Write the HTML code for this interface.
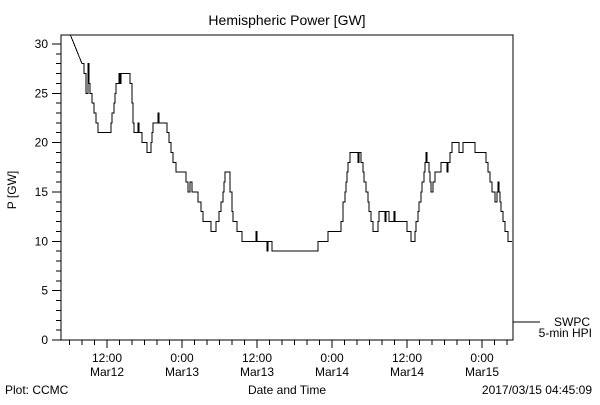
<!DOCTYPE html>
<html><head><meta charset="utf-8"><style>
body{margin:0;background:#fff}
svg text{font-family:"Liberation Sans",sans-serif;fill:#000}
</style></head><body>
<svg width="600" height="400" viewBox="0 0 600 400" xmlns="http://www.w3.org/2000/svg">
<rect width="600" height="400" fill="#fff"/>
<text x="287" y="25" font-size="14" text-anchor="middle">Hemispheric Power [GW]</text>
<text x="0" y="0" font-size="12" text-anchor="middle" transform="translate(16,190) rotate(-90)">P [GW]</text>
<g id="axes" shape-rendering="crispEdges"></g>
<g id="series" shape-rendering="crispEdges"></g>
<line x1="513" y1="322" x2="540" y2="322" stroke="#000" stroke-width="1" shape-rendering="crispEdges"/>
<text x="590" y="326" font-size="12" text-anchor="end">SWPC</text>
<text x="592" y="337" font-size="12" text-anchor="end">5-min HPI</text>
<text x="287" y="394" font-size="12" text-anchor="middle">Date and Time</text>
<text x="5" y="394" font-size="12">Plot: CCMC</text>
<text x="592" y="394" font-size="12" text-anchor="end">2017/03/15 04:45:09</text>
</svg>
<script>
const hours=[6.08,8.0,8.32,8.64,8.8,8.96,9.12,9.28,9.6,9.92,10.24,10.56,12.48,12.64,12.8,13.12,13.28,13.44,13.92,14.08,14.24,15.52,15.68,16.0,16.16,16.32,16.8,16.96,17.12,17.6,17.92,18.4,18.72,19.04,19.2,19.36,20.0,20.16,20.32,21.44,21.6,21.92,22.24,22.56,23.04,24.16,24.64,24.96,25.28,25.6,26.56,27.04,27.36,28.16,28.64,29.12,29.44,29.92,30.24,30.56,30.72,30.88,31.52,31.68,32.0,32.16,32.48,32.8,33.44,33.6,35.68,35.84,36.0,37.44,37.6,37.76,38.24,38.4,45.6,45.76,47.2,47.36,49.28,49.44,49.76,50.08,50.24,50.4,50.56,50.88,52.0,52.16,52.32,52.64,52.96,53.12,53.44,53.76,53.92,54.24,54.56,55.2,55.36,55.52,56.32,56.48,56.64,56.96,57.12,57.76,57.92,58.08,59.84,60.0,60.48,60.64,61.12,61.28,61.44,61.76,61.92,62.24,62.4,62.72,62.88,63.04,63.2,63.52,63.68,63.84,64.16,64.48,65.28,65.44,66.24,66.4,66.56,66.88,67.2,68.0,68.32,68.64,68.96,70.72,70.88,72.32,72.64,72.96,73.28,73.6,74.08,74.24,74.4,74.56,74.72,74.88,75.04,75.36,75.68,76.16,76.8];
const power=[31,28,27,25,25,28,26,25,24,23,22,21,21,22,23,24,25,26,27,26,27,27,26,24,22,21,21,22,21,20,20,19,19,20,21,22,22,23,22,22,21,20,19,18,17,17,16,15,16,15,14,13,12,12,11,11,12,13,14,15,16,17,17,15,13,12,12,11,11,10,10,11,10,10,9,10,10,9,9,10,10,11,11,12,14,15,16,17,18,19,19,18,19,18,17,16,15,14,13,12,11,11,12,13,13,12,13,13,12,12,13,12,12,11,11,10,10,11,12,13,14,15,16,17,18,19,18,17,16,15,16,17,17,18,18,17,18,19,20,20,19,19,20,20,19,19,18,17,16,15,14,14,15,16,15,14,13,12,11,10,10];
const yTickValues=[0,5,10,15,20,25,30];
const xTickHours=[12,24,36,48,60,72];
const xTickTimes=["12:00","0:00","12:00","0:00","12:00","0:00"];
const xTickDates=["Mar12","Mar13","Mar13","Mar14","Mar14","Mar15"];

const L=61,R=513,T=35,B=340;
const X=h=>32+h*6.25;
const Y=v=>340-v*9.87;
const NS="http://www.w3.org/2000/svg";
function mk(tag,attrs,parent,text){const e=document.createElementNS(NS,tag);for(const k in attrs)e.setAttribute(k,attrs[k]);if(text!==undefined)e.textContent=text;parent.appendChild(e);return e;}
const ax=document.getElementById('axes');
const frame=mk('rect',{x:L,y:T,width:R-L,height:B-T,fill:'none',stroke:'#000','stroke-width':1},ax);


for(let v=0;v<=30;v++){
  const major=v%5===0;
  const t=mk('line',{x1:major?52:56,x2:L,y1:Y(v),y2:Y(v),stroke:'#000','stroke-width':1},ax);
  
  
}
yTickValues.forEach(v=>{
  const t=mk('text',{x:48,y:Y(v)+4,'font-size':12,'text-anchor':'end'},ax,String(v));
  
  
});
for(let h=6;h<=76;h+=2){
  const x=X(h); if(x<=L||x>=R)continue;
  const major=h%12===0;
  const t=mk('line',{x1:x,x2:x,y1:B,y2:major?348:345,stroke:'#000','stroke-width':1},ax);
  
  
}
xTickHours.forEach((h,i)=>{
  const a=mk('text',{x:X(h),y:362,'font-size':12,'text-anchor':'middle'},ax,xTickTimes[i]);
  
  
  const b=mk('text',{x:X(h),y:376,'font-size':12,'text-anchor':'middle'},ax,xTickDates[i]);
  
  
});
const sg=document.getElementById('series');
const cp=mk('clipPath',{id:'clip'},sg);
mk('rect',{x:L,y:T,width:R-L,height:B-T},cp);
let d='M'+X(hours[0])+','+Y(power[0]);
for(let i=1;i<hours.length;i++){
  if(i===1){d+=' L'+X(hours[i])+','+Y(power[i]);continue;}
  d+=' H'+X(hours[i])+' V'+Y(power[i]);
}
const p=mk('path',{d:d,fill:'none',stroke:'#000','stroke-width':1,'clip-path':'url(#clip)'},sg);


</script>
</body></html>
